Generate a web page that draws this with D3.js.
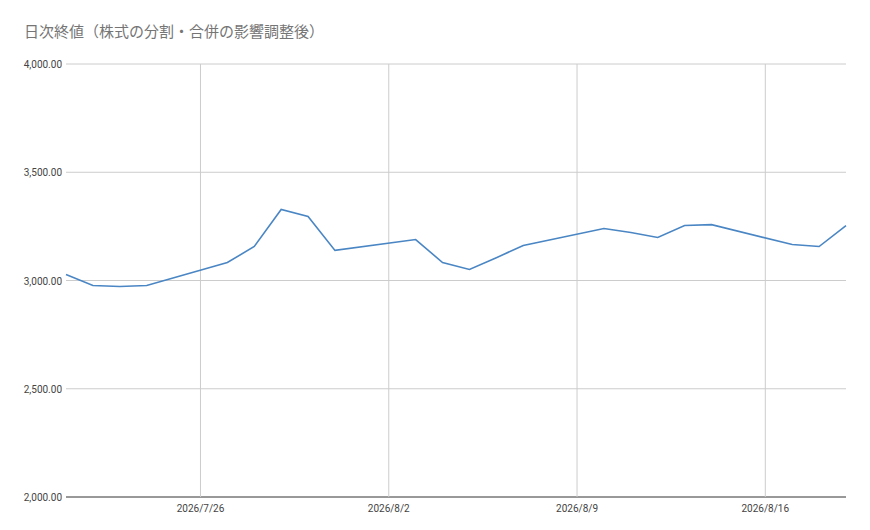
<!DOCTYPE html>
<html><head><meta charset="utf-8">
<script src="https://cdn.jsdelivr.net/npm/d3@7"></script>
<style>body{margin:0;background:#fff;font-family:"Noto Sans CJK JP",Roboto,sans-serif}</style>
</head><body><div id="chart"></div>
<script>
var dates = ["2026-07-21","2026-07-22","2026-07-23","2026-07-24","2026-07-27","2026-07-28","2026-07-29","2026-07-30","2026-07-31",
  "2026-08-03","2026-08-04","2026-08-05","2026-08-06","2026-08-07","2026-08-10","2026-08-11","2026-08-12","2026-08-13","2026-08-14",
  "2026-08-17","2026-08-18","2026-08-19"];
var closes = [3028,2977,2972,2977,3083,3157,3328,3296,3139,
  3189,3083,3051,3105,3162,3240,3222,3199,3254,3258,
  3166,3157,3254];
var xTicks = ["2026-07-26","2026-08-02","2026-08-09","2026-08-16"];
var yTicks = [2000,2500,3000,3500,4000];

var svgWidth = 870, svgHeight = 530;
var margin = {top: 64, right: 24, bottom: 33, left: 66};
var width = svgWidth - margin.left - margin.right;
var height = svgHeight - margin.top - margin.bottom;
var parse = d3.timeParse("%Y-%m-%d");
var data = dates.map((d, i) => ({date: parse(d), v: closes[i]}));

var svg = d3.select("#chart").append("svg").attr("width", svgWidth).attr("height", svgHeight);
svg.append("text").attr("x", 24).attr("y", 37).attr("fill", "#757575").attr("font-size", 15)
  .text("日次終値（株式の分割・合併の影響調整後）");

var g = svg.append("g").attr("transform", `translate(${margin.left},${margin.top})`);
var x = d3.scaleTime().domain([parse("2026-07-21"), parse("2026-08-19")]).range([0, width]);
var y = d3.scaleLinear().domain([2000, 4000]).range([height, 0]);

g.selectAll(".hg").data(yTicks).enter().append("line")
  .attr("x1", 0).attr("x2", width).attr("y1", d => y(d)).attr("y2", d => y(d))
  .attr("stroke", d => d === 2000 ? "#333" : "#ccc").attr("stroke-width", 1);
g.selectAll(".vg").data(xTicks).enter().append("line")
  .attr("x1", d => x(parse(d))).attr("x2", d => x(parse(d))).attr("y1", 0).attr("y2", height)
  .attr("stroke", "#ccc");

g.selectAll(".yl").data(yTicks).enter().append("text")
  .attr("x", -4).attr("y", d => y(d) + 4).attr("text-anchor", "end")
  .attr("font-size", 10).attr("fill", "#444").attr("font-family", "Roboto,sans-serif")
  .text(d => d3.format(",.2f")(d));
var fmt = d3.timeFormat("%Y/%-m/%-d");
g.selectAll(".xl").data(xTicks).enter().append("text")
  .attr("x", d => x(parse(d))).attr("y", height + 15).attr("text-anchor", "middle")
  .attr("font-size", 10).attr("fill", "#444").attr("font-family", "Roboto,sans-serif")
  .text(d => fmt(parse(d)));

g.append("path").datum(data).attr("fill", "none").attr("stroke", "#4a86c4").attr("stroke-width", 1.6)
  .attr("d", d3.line().x(d => x(d.date)).y(d => y(d.v)));
</script></body></html>
